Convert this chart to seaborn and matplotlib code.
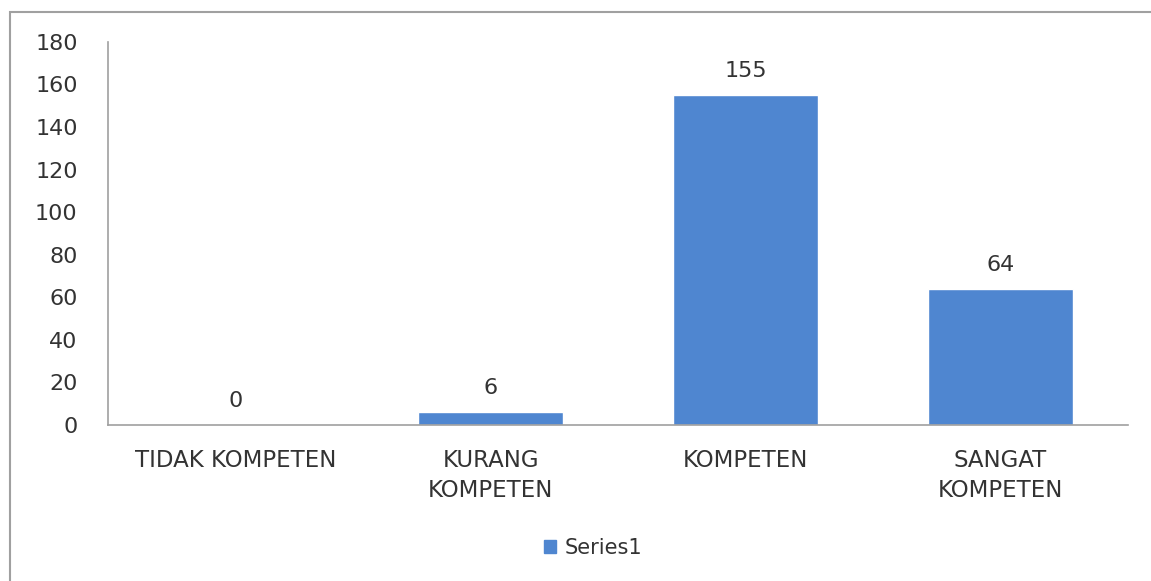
import matplotlib
matplotlib.use("Agg")
import matplotlib.pyplot as plt
import matplotlib.patches as mpatches
import seaborn as sns
import pandas as pd

categories = ["TIDAK KOMPETEN", "KURANG\nKOMPETEN", "KOMPETEN", "SANGAT\nKOMPETEN"]
values = [0, 6, 155, 64]
series_name = "Series1"
y_ticks = [0, 20, 40, 60, 80, 100, 120, 140, 160, 180]

bar_color = "#4F86D0"
text_color = "#333333"

sns.set_theme(style="white")
plt.rcParams['font.family'] = ['DejaVu Sans']

df = pd.DataFrame({"kategori": categories, "jumlah": values})

fig = plt.figure(figsize=(11.51, 5.81), dpi=100)
ax = fig.add_axes([0.094, 0.2685, 0.886, 0.6595])

sns.barplot(data=df, x="kategori", y="jumlah", color=bar_color, width=0.57,
            saturation=1, ax=ax)

for p, v in zip(ax.patches, values):
    ax.text(p.get_x() + p.get_width() / 2, v + 6.5, str(v), ha='center', va='bottom',
            fontsize=16, color=text_color)

ax.set_ylim(0, 180)
ax.set_yticks(y_ticks)
ax.set_xlim(-0.5, len(categories) - 0.5)
ax.set_xlabel('')
ax.set_ylabel('')
ax.tick_params(axis='y', labelsize=16, colors=text_color, length=0, pad=22)
ax.tick_params(axis='x', labelsize=16.5, colors=text_color, length=0, pad=17)
for lbl in ax.get_xticklabels():
    lbl.set_linespacing(1.4)

for s in ['top', 'right']:
    ax.spines[s].set_visible(False)
for s in ['left', 'bottom']:
    ax.spines[s].set_color('#a0a0a0')
    ax.spines[s].set_linewidth(1.2)

# outer chart border
border = mpatches.Rectangle((10 / 1151, -0.02), 1.2, 1 - 12 / 581 + 0.02,
                            transform=fig.transFigure, fill=False,
                            edgecolor='#a0a0a0', linewidth=1.5)
fig.add_artist(border)

handle = mpatches.Patch(color=bar_color, label=series_name)
fig.legend(handles=[handle], loc='center', bbox_to_anchor=(0.515, 0.057),
           frameon=False, fontsize=15, handlelength=0.6, handleheight=0.6,
           handletextpad=0.4, labelcolor=text_color)

fig.savefig("out.png", dpi=100)
